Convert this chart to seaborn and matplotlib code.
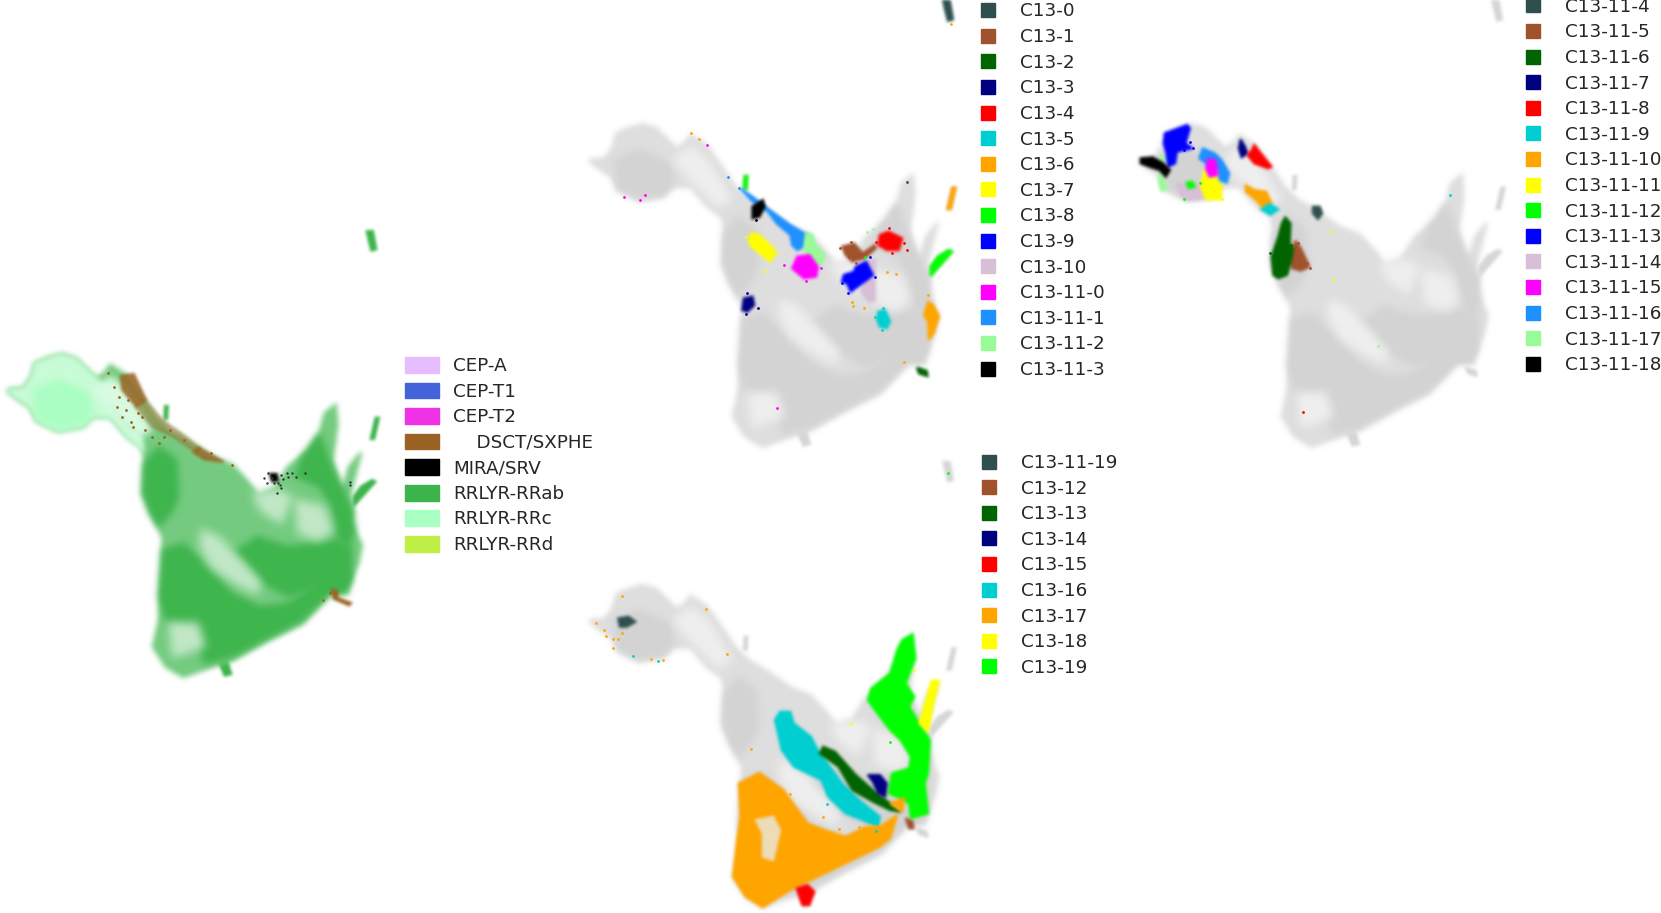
import numpy as np
import seaborn as sns
import matplotlib.pyplot as plt
from matplotlib.colors import to_rgb
from matplotlib.lines import Line2D
from matplotlib.patches import Patch

W, H = 1661, 913

body = [(62,478),(100,476),(125,440),(135,400),(170,385),(210,373),(250,385),(285,420),(310,445),(335,428),(350,405),(395,435),
        (440,500),(480,560),(520,600),(570,630),(640,680),(700,705),(740,750),(775,795),(820,775),(860,710),(920,660),(950,610),
        (965,550),(995,525),(1000,580),(993,640),(985,690),(1005,760),(1015,780),(1035,710),(1068,668),(1050,740),(1035,800),
        (1045,840),(1040,880),(1070,945),(1060,1000),(1035,1060),(1030,1090),(985,1085),(900,1180),(800,1230),(700,1290),(640,1310),
        (560,1340),(510,1310),(473,1250),(490,1170),(500,1000),(500,920),(470,855),(443,790),(450,690),(440,650),(400,620),
        (350,560),(300,560),(270,590),(200,602),(140,572),(120,530),(90,510),(58,484)]
tail = [(658,1288),(682,1283),(697,1332),(678,1337)]
sliver_a = [(1083,-4),(1102,0),(1112,58),(1098,62),(1090,30)]
sliver_b = [(1110,563),(1120,563),(1106,627),(1096,627)]
sliver_c = [(1100,750),(1110,755),(1061,812),(1047,828),(1047,800),(1069,769)]
sliver_d = [(1008,1103),(1036,1113),(1038,1128),(1014,1120)]
sliver_e = [(507,528),(515,528),(513,567),(505,567)]

dense_left = [(447,700),(490,650),(540,690),(545,800),(530,840),(490,890),(465,850),(445,790)]
dense_low = [(500,960),(560,940),(620,1000),(700,1090),(780,1130),(860,1120),(940,1060),(1030,960),(1040,1050),(1020,1090),
             (980,1090),(900,1170),(800,1225),(700,1280),(620,1300),(590,1200),(510,1170),(490,1100)]
dense_band = [(700,970),(770,920),(860,950),(1000,930),(1040,960),(1030,1060),(940,1070),(860,1100),(790,1060),(730,990)]
dense_right = [(900,680),(950,610),(980,700),(1040,830),(1050,900),(1030,960),(1000,920),(985,830),(950,770),(880,740)]
dense_lobe = [(130,480),(200,450),(290,490),(300,550),(270,585),(200,595),(140,565)]
dense_groups = [dense_left, dense_low, dense_band, dense_right, dense_lobe]

thin_mid = [(610,900),(660,920),(730,1000),(780,1060),(770,1090),(710,1060),(640,1010),(610,950)]
thin_right = [(880,810),(960,830),(985,900),(950,930),(890,910)]
thin_neck = [(350,440),(400,480),(470,600),(430,620),(350,540),(300,480)]
thin_low = [(520,1180),(600,1180),(620,1250),(530,1280)]
thin_notch = [(760,790),(830,780),(870,800),(840,880),(780,840)]
thin_groups = [thin_mid, thin_right, thin_neck, thin_low, thin_notch]

# left panel, variable classes
lobe_rrc = [(62,478),(100,476),(125,440),(135,400),(170,385),(210,373),(250,385),(285,420),(310,445),(335,470),(360,540),
            (400,590),(440,620),(445,660),(400,622),(350,562),(300,560),(270,590),(200,602),(140,572),(120,530),(90,510),(58,484)]
dsct_top = [(380,437),(418,432),(452,510),(425,530),(385,480)]
dsct_mid = [(450,510),(499,570),(553,610),(607,655),(600,670),(530,620),(470,590),(423,530)]
dsct_end = [(603,652),(676,696),(618,688),(588,665)]
dsct_low = [(985,1078),(1001,1084),(1001,1104),(1040,1119),(1034,1126),(990,1106)]
mira_core = [(808,732),(827,732),(830,752),(814,754)]
mira_x = [802,830,838,828,855,882,909,1038,1038,845,820,812,840,835,860,790,798,870]
mira_y = [728,760,775,790,730,740,730,765,755,748,760,745,735,765,742,745,760,730]
dsct_x = [375,395,440,470,520,560,640,700,980,960,415,490,385,360,400,450,430,505,345,370,410]
dsct_y = [500,540,560,620,600,630,670,705,1090,1110,590,640,560,470,510,600,550,620,430,530,575]

class_names = ['CEP-A','CEP-T1','CEP-T2','    DSCT/SXPHE','MIRA/SRV','RRLYR-RRab','RRLYR-RRc','RRLYR-RRd']
class_colors = ['#e6beff','#4363d8','#f032e6','#9a6324','#000000','#3cb44b','#aaffc3','#bfef45']

# top middle panel
c0 = sliver_a
c1 = [(790,740),(825,730),(850,760),(885,735),(888,745),(855,775),(820,785),(800,765)]
c2 = sliver_d
c3 = [(505,895),(530,890),(535,915),(515,935),(500,930)]
c4 = [(900,705),(925,695),(965,715),(955,750),(920,750),(895,735)]
c5 = [(895,935),(915,930),(930,965),(920,985),(900,980),(892,960)]
c6a = [(1040,905),(1055,915),(1072,950),(1056,1000),(1042,1020),(1040,965),(1028,945)]
c6b = sliver_b
c7 = [(525,700),(550,705),(595,750),(590,775),(575,780),(540,750),(520,730)]
c8a = sliver_c
c8b = sliver_e
c9 = [(830,800),(860,785),(880,825),(855,845),(815,875),(805,850),(790,845),(795,825),(825,815)]
c10 = [(865,780),(885,780),(885,900),(870,905),(845,875),(860,840)]
c11_0 = [(660,770),(695,765),(720,800),(715,830),(680,835),(645,805)]
c11_1 = [(495,565),(530,590),(580,630),(640,675),(690,705),(680,740),(660,750),(645,735),(640,705),(600,670),(575,635),(530,605)]
c11_2 = [(685,700),(705,705),(710,730),(740,765),(730,795),(700,780),(680,745)]
c11_3 = [(530,620),(560,600),(565,620),(550,650),(530,655)]
top_mid = [(c0,'darkslategray'),(c1,'sienna'),(c2,'darkgreen'),(c3,'navy'),(c4,'red'),(c5,'darkturquoise'),(c6a,'orange'),(c6b,'orange'),
           (c7,'yellow'),(c8a,'lime'),(c8b,'lime'),(c10,'thistle'),(c9,'blue'),(c11_1,'dodgerblue'),(c11_2,'palegreen'),(c11_0,'magenta'),(c11_3,'black')]
top_mid_specks = [(158,590,'magenta'),(203,600,'magenta'),(217,586,'magenta'),(398,436,'magenta'),(601,1223,'magenta'),(622,795,'magenta'),
                  (728,803,'magenta'),(684,842,'magenta'),(352,400,'orange'),(375,417,'orange'),(920,815,'orange'),(947,823,'orange'),(820,905,'orange'),
                  (855,925,'orange'),(970,1087,'orange'),(822,918,'orange'),(1106,72,'orange'),(1040,885,'orange'),(460,530,'dodgerblue'),(492,565,'dodgerblue'),
                  (880,687,'palegreen'),(862,695,'palegreen'),(980,545,'darkslategray'),(980,750,'red'),(925,684,'red'),(890,725,'red'),(970,728,'red'),(935,760,'red'),
                  (545,925,'navy'),(515,878,'navy'),(512,942,'navy'),(565,812,'yellow'),(510,710,'yellow'),(578,782,'yellow'),(600,760,'yellow'),(530,740,'yellow'),
                  (540,660,'black'),(858,770,'lime'),(785,745,'sienna'),(815,725,'sienna'),(840,770,'sienna'),(830,790,'sienna'),(810,770,'sienna'),
                  (790,850,'blue'),(808,878,'blue'),(870,770,'blue'),(885,830,'blue'),(905,990,'darkturquoise'),(910,925,'darkturquoise'),(885,950,'darkturquoise')]
top_mid_labels = ['C13-0','C13-1','C13-2','C13-3','C13-4','C13-5','C13-6','C13-7','C13-8','C13-9','C13-10','C13-11-0','C13-11-1','C13-11-2','C13-11-3']
top_mid_colors = ['darkslategray','sienna','darkgreen','navy','red','darkturquoise','orange','yellow','lime','blue','thistle','magenta','dodgerblue','palegreen','black']

# top right panel
d4 = [(563,620),(583,620),(590,640),(578,657),(563,640)]
d5 = [(513,722),(528,745),(553,800),(528,812),(503,805),(493,770)]
d6 = [(483,652),(498,670),(496,730),(506,745),(498,790),(488,825),(463,835),(448,825),(443,770),(463,710),(473,670)]
d7 = [(353,418),(366,440),(373,460),(356,472),(348,445)]
d8 = [(393,435),(408,455),(443,500),(433,505),(393,490),(373,465),(386,450)]
d9 = [(413,628),(438,612),(463,628),(440,645)]
d10 = [(368,555),(393,570),(428,575),(443,610),(418,625),(398,600),(368,575)]
d11 = [(248,510),(258,530),(283,530),(298,560),(296,598),(253,598),(238,560)]
d12 = [(196,548),(213,545),(220,560),(203,565)]
d13 = [(133,400),(198,375),(206,385),(193,430),(213,445),(168,455),(163,490),(143,500),(138,460),(130,430)]
d14 = [(168,552),(243,555),(248,595),(193,600),(178,580)]
d15 = [(258,478),(280,480),(286,525),(263,530),(253,505)]
d16 = [(243,445),(278,460),(298,480),(320,520),(313,548),(293,540),(288,510),(253,490),(233,475)]
d17a = [(118,470),(133,470),(128,490)]
d17b = [(116,520),(128,530),(138,570),(123,572),(116,545)]
d18 = [(63,475),(98,472),(128,490),(148,510),(136,530),(118,510),(88,500),(63,490)]
top_right = [(d4,'darkslategray'),(d5,'sienna'),(d6,'darkgreen'),(d7,'navy'),(d8,'red'),(d10,'orange'),(d9,'darkturquoise'),(d14,'thistle'),
             (d11,'yellow'),(d12,'lime'),(d16,'dodgerblue'),(d15,'magenta'),(d17a,'palegreen'),(d17b,'palegreen'),(d13,'blue'),(d18,'black')]
top_right_specks = [(615,697,'yellow'),(621,838,'yellow'),(753,1037,'palegreen'),(535,1235,'red'),(960,585,'darkturquoise'),
                    (190,598,'lime'),(235,550,'lime'),(300,598,'yellow'),(215,445,'blue'),(205,425,'blue'),(190,450,'blue'),
                    (545,790,'sienna'),(520,730,'sienna'),(555,805,'sienna'),(438,760,'darkgreen'),(500,735,'darkgreen')]
top_right_labels = ['C13-11-4','C13-11-5','C13-11-6','C13-11-7','C13-11-8','C13-11-9','C13-11-10','C13-11-11','C13-11-12','C13-11-13','C13-11-14','C13-11-15','C13-11-16','C13-11-17','C13-11-18']
top_right_colors = ['darkslategray','sienna','darkgreen','navy','red','darkturquoise','orange','yellow','lime','blue','thistle','magenta','dodgerblue','palegreen','black']

# bottom panel
e19 = [(140,473),(170,468),(190,483),(165,498),(145,498)]
e12 = [(975,1073),(995,1083),(998,1103),(985,1103)]
e13 = [(735,858),(770,873),(830,943),(880,988),(960,1053),(930,1048),(880,1023),(820,988),(780,918),(725,878)]
e14 = [(865,943),(900,943),(920,968),(915,1008),(895,998),(880,963)]
e15 = [(658,1283),(690,1273),(710,1293),(695,1333),(675,1333)]
e16 = [(595,778),(610,753),(640,753),(650,788),(700,828),(720,868),(790,968),(840,1018),(900,1068),(895,1098),(850,1078),(800,1058),
       (750,1008),(730,958),(650,918),(615,868)]
e17 = [(490,968),(550,936),(620,988),(690,1088),(740,1108),(800,1128),(860,1098),(900,1098),(950,1063),(930,1133),(900,1158),(800,1208),
       (700,1258),(640,1288),(560,1340),(510,1308),(473,1248),(485,1138),(495,1068)]
e17_hole = [(540,1078),(590,1068),(610,1108),(590,1198),(560,1188),(560,1118)]
e17b = [(930,1028),(970,1013),(965,1053)]
e18 = [(1050,660),(1072,660),(1055,728),(1040,813),(1015,788)]
e19b = [(965,538),(995,520),(1003,593),(975,668),(1000,708),(985,738),(1045,838),(1040,938),(1030,968),(1040,1058),(990,1073),(985,1028),
        (950,1008),(925,998),(935,938),(985,923),(990,888),(960,838),(930,808),(900,768),(865,718),(875,683),(930,638),(950,568)]
bottom = [(e19,'darkslategray'),(e16,'darkturquoise'),(e17,'orange'),(e17_hole,'#ecdcb8'),(e19b,'lime'),(e18,'yellow'),(e13,'darkgreen'),
          (e14,'navy'),(e17b,'orange'),(e12,'sienna'),(e15,'red')]
bottom_specks = [(150,405,'orange'),(395,446,'orange'),(75,488,'orange'),(100,508,'orange'),(105,526,'orange'),(125,534,'orange'),(140,534,'orange'),
                 (125,563,'orange'),(150,516,'orange'),(235,596,'orange'),(270,598,'orange'),(455,580,'orange'),(527,866,'orange'),
                 (183,585,'darkturquoise'),(255,600,'darkturquoise'),(1097,38,'lime'),(817,790,'yellow'),(1000,628,'yellow'),
                 (735,1070,'orange'),(890,1110,'darkturquoise'),(840,1100,'orange'),(780,1105,'orange'),(640,1000,'orange'),
                 (695,830,'darkturquoise'),(745,1030,'darkturquoise'),(980,700,'lime'),(930,845,'lime')]
bottom_labels = ['C13-11-19','C13-12','C13-13','C13-14','C13-15','C13-16','C13-17','C13-18','C13-19']
bottom_colors = ['darkslategray','sienna','darkgreen','navy','red','darkturquoise','orange','yellow','lime']

sns.set_theme(style='white')
plt.rcParams['font.family'] = ['DejaVu Sans']
fig = plt.figure(figsize=(W/100, H/100), dpi=100)


def panel(left, top, width=413.2):
    ax = fig.add_axes([left/W, 1-(top+466.7)/H, width/W, 466.7/H])
    ax.patch.set_alpha(0)
    return ax


def smooth_alpha(a, r):
    # box blur along both axes, three passes
    kernel = np.ones(2*r+1)/(2*r+1)
    for _ in range(3):
        a = np.apply_along_axis(np.convolve, 0, a, kernel, mode='same')
        a = np.apply_along_axis(np.convolve, 1, a, kernel, mode='same')
    return a


def soft_edge(color, r):
    rgb = to_rgb(color)

    def process(img, dpi):
        pad = 3*r+2
        a = np.pad(img[:, :, 3], pad)
        out = np.zeros(a.shape+(4,))
        out[:, :, :3] = rgb
        out[:, :, 3] = smooth_alpha(a, r)
        return out, -pad, -pad
    return process


def blob(ax, pts, color, r=1, alpha=1.0, lw=1.5):
    xs = [p[0] for p in pts]
    ys = [p[1] for p in pts]
    for patch in ax.fill(xs, ys, facecolor=color, edgecolor=color, lw=lw, alpha=alpha):
        patch.set_agg_filter(soft_edge(color, r))


def specks(ax, items):
    for x, y, c in items:
        sns.scatterplot(x=[x], y=[y], color=c, s=4, linewidth=0, ax=ax, legend=False)


def finish(ax):
    ax.set_xlim(0, 1200)
    ax.set_ylim(1400, 0)
    ax.set_axis_off()


def grey_base(ax):
    for s in [sliver_a, sliver_b, sliver_c, sliver_d, sliver_e, tail]:
        blob(ax, s, '#d6d6d6', r=1)
    blob(ax, body, '#dedede', r=2, lw=2)
    for z in dense_groups:
        blob(ax, z, '#d3d3d3', r=3)
    for z in thin_groups:
        blob(ax, z, '#efefef', r=4)


def marker_legend(ax, labels, colors, x, y):
    handles = [Line2D([], [], ls='none', marker='s', ms=9.9, color=c, mec=c, label=t) for t, c in zip(labels, colors)]
    ax.legend(handles=handles, loc='upper left', bbox_to_anchor=(x/W, 1-y/H), bbox_transform=fig.transFigure,
              frameon=False, fontsize=13.2, borderpad=0, borderaxespad=0, labelspacing=0.415, handletextpad=0.72)


# left panel
ax1 = panel(-12, 230, 419)
for s in [sliver_a, sliver_b, sliver_c, sliver_e, tail]:
    blob(ax1, s, '#3cb44b', r=1)
blob(ax1, body, '#74cb80', r=2, lw=2)
for z in dense_groups[:4]:
    blob(ax1, z, '#3fb54e', r=3)
for z in thin_groups:
    if z is not thin_neck:
        blob(ax1, z, '#c2e8c7', r=4)
blob(ax1, lobe_rrc, '#c8fcd6', r=2, lw=2)
blob(ax1, dense_lobe, '#aaffc3', r=3)
blob(ax1, thin_neck, '#d8fbe2', r=3)
blob(ax1, dsct_mid, '#9a6324', r=1, alpha=0.45)
blob(ax1, dsct_top, '#9a6324', r=1, alpha=0.85)
blob(ax1, dsct_end, '#9a6324', r=1, alpha=0.8)
blob(ax1, dsct_low, '#9a6324', r=1)
blob(ax1, mira_core, '#000000', r=1)
sns.scatterplot(x=mira_x, y=mira_y, color='#333333', s=3, linewidth=0, ax=ax1, legend=False)
sns.scatterplot(x=dsct_x, y=dsct_y, color='#9a6324', s=4, linewidth=0, ax=ax1, legend=False)
finish(ax1)
ax1.legend(handles=[Patch(color=c, label=t) for t, c in zip(class_names, class_colors)], loc='upper left',
           bbox_to_anchor=(404.5/W, 1-357/H), bbox_transform=fig.transFigure, frameon=False, fontsize=13.2,
           borderpad=0, borderaxespad=0, labelspacing=0.4, handlelength=1.9, handleheight=0.95, handletextpad=0.77)

# top middle
ax2 = panel(570, 0)
grey_base(ax2)
for pts, c in top_mid:
    blob(ax2, pts, c, r=1)
specks(ax2, top_mid_specks)
finish(ax2)
marker_legend(ax2, top_mid_labels, top_mid_colors, 970, 2.5)

# top right
ax3 = panel(1119, 0)
grey_base(ax3)
for pts, c in top_right:
    blob(ax3, pts, c, r=1)
specks(ax3, top_right_specks)
finish(ax3)
marker_legend(ax3, top_right_labels, top_right_colors, 1515, -2.2)

# bottom
ax4 = panel(570, 460.7)
grey_base(ax4)
for pts, c in bottom:
    blob(ax4, pts, c, r=1)
specks(ax4, bottom_specks)
finish(ax4)
marker_legend(ax4, bottom_labels, bottom_colors, 971, 454)

fig.savefig('out.png', dpi=100)
